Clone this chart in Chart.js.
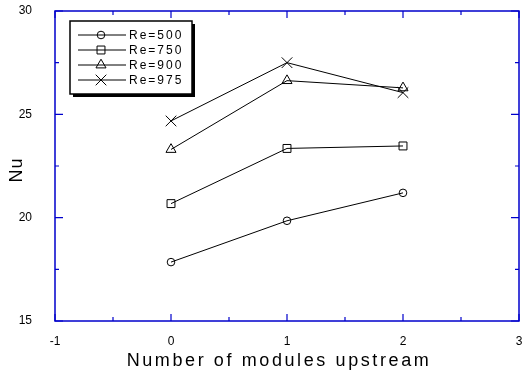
<!DOCTYPE html>
<html>
<head>
<meta charset="utf-8">
<script src="https://cdn.jsdelivr.net/npm/chart.js@4/dist/chart.umd.min.js"></script>
<style>
  html, body { margin: 0; padding: 0; background: #fff; }
  #wrap { width: 522px; height: 374px; }
</style>
</head>
<body>
<div id="wrap"><canvas id="nuChart" width="522" height="374"></canvas></div>
<script>
const xValues = [0, 1, 2];
const re500 = [17.85, 19.85, 21.2];
const re750 = [20.68, 23.35, 23.47];
const re900 = [23.3, 26.63, 26.28];
const re975 = [24.68, 27.5, 26.05];
const seriesLabels = ['Re=500', 'Re=750', 'Re=900', 'Re=975'];
const xTicks = [-1, 0, 1, 2, 3];
const yTicks = [15, 20, 25, 30];

const FONT = '"Liberation Sans", Arial, sans-serif';
const FRAME = '#0000cc';

const styles = [
  { pointStyle: 'circle', pointRadius: 3.8 },
  { pointStyle: 'rect', pointRadius: 5.6 },
  { pointStyle: 'triangle', pointRadius: 5.8 },
  { pointStyle: 'crossRot', pointRadius: 7.5 }
];

const datasets = [re500, re750, re900, re975].map((vals, i) => ({
  label: seriesLabels[i],
  data: vals.map((v, j) => ({ x: xValues[j], y: v })),
  borderColor: '#000',
  backgroundColor: 'rgba(0,0,0,0)',
  pointBorderColor: '#000',
  pointBackgroundColor: 'rgba(0,0,0,0)',
  borderWidth: 1,
  pointBorderWidth: 1,
  pointStyle: styles[i].pointStyle,
  pointRadius: styles[i].pointRadius,
  tension: 0
}));

// frame, inward ticks, legend box and axis titles
const decor = {
  id: 'decor',
  afterDraw(chart) {
    const { ctx, chartArea: a, scales } = chart;
    const xs = scales.x, ys = scales.y;
    ctx.save();
    ctx.strokeStyle = FRAME;
    ctx.lineWidth = 1.5;
    ctx.strokeRect(a.left, a.top, a.right - a.left, a.bottom - a.top);
    ctx.lineWidth = 1.2;
    ctx.beginPath();
    for (let v = xTicks[0]; v <= xTicks[xTicks.length - 1]; v += 0.5) {
      const px = xs.getPixelForValue(v);
      const len = Number.isInteger(v) ? 7 : 4;
      ctx.moveTo(px, a.bottom); ctx.lineTo(px, a.bottom - len);
      ctx.moveTo(px, a.top); ctx.lineTo(px, a.top + len);
    }
    for (let v = yTicks[0]; v <= yTicks[yTicks.length - 1]; v += 2.5) {
      const py = ys.getPixelForValue(v);
      const len = v % 5 === 0 ? 8 : 4;
      ctx.moveTo(a.left, py); ctx.lineTo(a.left + len, py);
      ctx.moveTo(a.right, py); ctx.lineTo(a.right - len, py);
    }
    ctx.stroke();

    // legend
    const bx = 70, by = 21, bw = 122, bh = 73;
    ctx.fillStyle = '#000';
    ctx.fillRect(bx + 3, by + 3, bw, bh);
    ctx.fillStyle = '#fff';
    ctx.fillRect(bx, by, bw, bh);
    ctx.strokeStyle = '#000';
    ctx.lineWidth = 1.5;
    ctx.strokeRect(bx, by, bw, bh);
    ctx.lineWidth = 1;
    ctx.font = '12px ' + FONT;
    ctx.letterSpacing = '2px';
    ctx.textBaseline = 'middle';
    ctx.textAlign = 'left';
    chart.data.datasets.forEach((ds, i) => {
      const y = 35 + i * 15;
      ctx.strokeStyle = '#000';
      ctx.beginPath();
      ctx.moveTo(78, y); ctx.lineTo(126, y);
      ctx.stroke();
      ctx.fillStyle = 'rgba(0,0,0,0)';
      Chart.helpers.drawPoint(ctx, {
        pointStyle: ds.pointStyle,
        radius: ds.pointRadius,
        rotation: 0,
        borderWidth: 1
      }, 101, y);
      ctx.fillStyle = '#000';
      ctx.fillText(ds.label, 129, y + 1);
    });

    // axis titles
    ctx.fillStyle = '#000';
    ctx.textAlign = 'center';
    ctx.font = '18px ' + FONT;
    ctx.letterSpacing = '2.6px';
    ctx.fillText('Number of modules upstream', (a.left + a.right) / 2 - 8, 361);
    ctx.translate(17, (a.top + a.bottom) / 2 + 4);
    ctx.rotate(-Math.PI / 2);
    ctx.font = '18px ' + FONT;
    ctx.letterSpacing = '1px';
    ctx.fillText('Nu', 0, 0);
    ctx.restore();
  }
};

new Chart(document.getElementById('nuChart').getContext('2d'), {
  type: 'line',
  data: { datasets: datasets },
  options: {
    responsive: false,
    animation: false,
    devicePixelRatio: 1,
    layout: { autoPadding: false, padding: { left: 0, top: 11, right: 3, bottom: 0 } },
    plugins: { legend: { display: false }, tooltip: { enabled: false } },
    scales: {
      x: {
        type: 'linear',
        min: xTicks[0],
        max: xTicks[xTicks.length - 1],
        afterBuildTicks: s => { s.ticks = xTicks.map(v => ({ value: v })); },
        afterFit: s => { s.height = 53; s.paddingLeft = 0; s.paddingRight = 0; },
        grid: { display: false },
        border: { display: false },
        ticks: { color: '#000', font: { size: 12, family: FONT }, padding: 5, maxRotation: 0 }
      },
      y: {
        type: 'linear',
        min: yTicks[0],
        max: yTicks[yTicks.length - 1],
        afterBuildTicks: s => { s.ticks = yTicks.map(v => ({ value: v })); },
        afterFit: s => { s.width = 55; s.paddingTop = 0; s.paddingBottom = 0; },
        grid: { display: false },
        border: { display: false },
        ticks: { color: '#000', font: { size: 12, family: FONT }, padding: 15 }
      }
    }
  },
  plugins: [decor]
});
</script>
</body>
</html>
